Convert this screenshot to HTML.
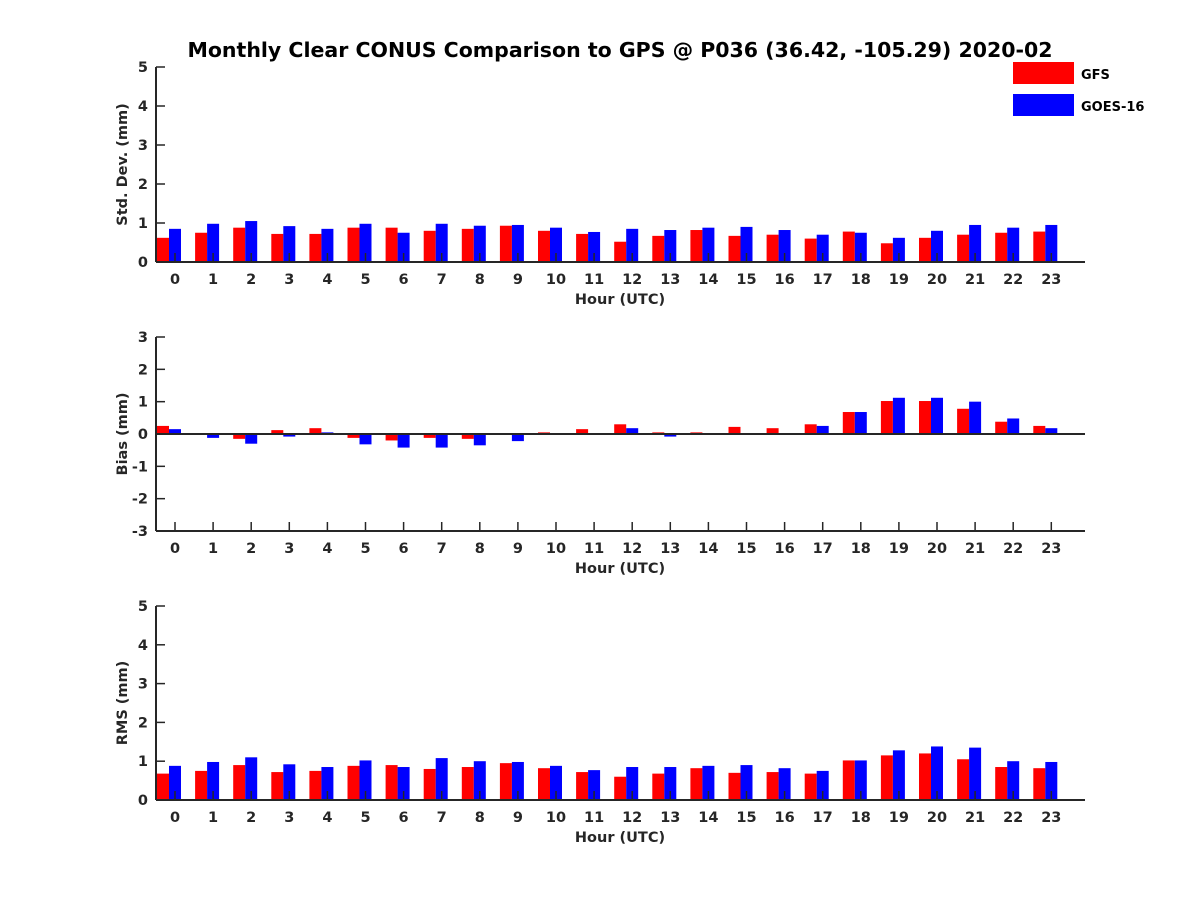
<!DOCTYPE html>
<html><head><meta charset="utf-8"><style>
body{margin:0;background:#fff}
svg{display:block;font-family:"DejaVu Sans","Liberation Sans",sans-serif;font-weight:bold}
</style></head><body>
<svg id="c" width="1200" height="900">
<text x="620" y="57" text-anchor="middle" font-size="20.5" fill="#000">Monthly Clear CONUS Comparison to GPS @ P036 (36.42, -105.29) 2020-02</text>
<g>
<rect x="1013" y="62" width="61" height="22" fill="#f00"/>
<text x="1081" y="79" font-size="13">GFS</text>
<rect x="1013" y="94" width="61" height="22" fill="#00f"/>
<text x="1081" y="111" font-size="13">GOES-16</text>
</g>
</svg>
<script>
const hours=[0,1,2,3,4,5,6,7,8,9,10,11,12,13,14,15,16,17,18,19,20,21,22,23];
const stdGFS=[0.62,0.75,0.88,0.72,0.72,0.88,0.88,0.8,0.85,0.93,0.8,0.72,0.52,0.67,0.82,0.67,0.7,0.6,0.78,0.48,0.62,0.7,0.75,0.78];
const stdGOES=[0.85,0.98,1.05,0.92,0.85,0.98,0.75,0.98,0.93,0.95,0.88,0.77,0.85,0.82,0.88,0.9,0.82,0.7,0.75,0.62,0.8,0.95,0.88,0.95];
const biasGFS=[0.25,0.03,-0.15,0.12,0.18,-0.12,-0.2,-0.12,-0.15,-0.03,0.05,0.15,0.3,0.05,0.05,0.22,0.18,0.3,0.68,1.02,1.02,0.78,0.38,0.25];
const biasGOES=[0.15,-0.12,-0.3,-0.08,0.05,-0.32,-0.42,-0.42,-0.35,-0.22,-0.03,0.02,0.18,-0.08,-0.03,0.02,0.02,0.25,0.68,1.12,1.12,1.0,0.48,0.18];
const rmsGFS=[0.68,0.75,0.9,0.72,0.75,0.88,0.9,0.8,0.85,0.95,0.82,0.72,0.6,0.68,0.82,0.7,0.72,0.68,1.02,1.15,1.2,1.05,0.85,0.82];
const rmsGOES=[0.88,0.98,1.1,0.92,0.85,1.02,0.85,1.08,1.0,0.98,0.88,0.77,0.85,0.85,0.88,0.9,0.82,0.75,1.02,1.28,1.38,1.35,1.0,0.98];
const stdTicks=[0,1,2,3,4,5];
const biasTicks=[-3,-2,-1,0,1,2,3];
const rmsTicks=[0,1,2,3,4,5];

const NS="http://www.w3.org/2000/svg";
const svg=document.getElementById('c');
function mk(t,a,p){const e=document.createElementNS(NS,t);for(const k in a)e.setAttribute(k,a[k]);(p||svg).appendChild(e);return e;}
const X0=156,X1=1085;
function xs(h){return 175+h*38.1;}
function panel(name,top,bot,ymin,ymax,ticks,gfs,goes,ylabel){
  const g=mk('g',{});
  
  
  const ys=v=>bot-(v-ymin)/(ymax-ymin)*(bot-top);
  const y0=ys(Math.max(0,ymin));
  hours.forEach((h,i)=>{
    const a=gfs[i],b=goes[i];
    const r=mk('rect',{x:xs(h)-18,y:Math.min(ys(a),y0),width:12,height:Math.abs(ys(a)-y0),fill:'#f00'},g);
    
    
    const q=mk('rect',{x:xs(h)-6,y:Math.min(ys(b),y0),width:12,height:Math.abs(ys(b)-y0),fill:'#00f'},g);
    
    
  });
  mk('line',{x1:X0,y1:top,x2:X0,y2:bot,stroke:'#262626','stroke-width':2},g);
  mk('line',{x1:X0,y1:bot,x2:X1,y2:bot,stroke:'#262626','stroke-width':2},g);
  if(ymin<0)mk('line',{x1:X0,y1:y0,x2:X1,y2:y0,stroke:'#262626','stroke-width':2},g);
  ticks.forEach(t=>{
    const y=ys(t);
    mk('line',{x1:X0,y1:y,x2:X0+9,y2:y,stroke:'#262626','stroke-width':1.5},g);
    const tx=mk('text',{x:X0-8,y:y+5,'text-anchor':'end','font-size':14.5,fill:'#262626'},g);
    tx.textContent=t;
    
    
  });
  hours.forEach(h=>{
    mk('line',{x1:xs(h),y1:bot,x2:xs(h),y2:bot-9,stroke:'#262626','stroke-width':1.5},g);
    const tx=mk('text',{x:xs(h),y:bot+22,'text-anchor':'middle','font-size':14.5,fill:'#262626'},g);
    tx.textContent=h;
    
    
  });
  const xl=mk('text',{x:620,y:bot+42,'text-anchor':'middle','font-size':14.5,fill:'#262626'},g);
  xl.textContent='Hour (UTC)';
  
  
  const cy=(top+bot)/2;
  const yl=mk('text',{x:0,y:0,'text-anchor':'middle','font-size':14.5,fill:'#262626',transform:`translate(${X0-29},${cy}) rotate(-90)`},g);
  yl.textContent=ylabel;
  
  
}
panel('std',67,262,0,5,stdTicks,stdGFS,stdGOES,'Std. Dev. (mm)');
panel('bias',337,531,-3,3,biasTicks,biasGFS,biasGOES,'Bias (mm)');
panel('rms',606,800,0,5,rmsTicks,rmsGFS,rmsGOES,'RMS (mm)');
</script>
</body></html>
